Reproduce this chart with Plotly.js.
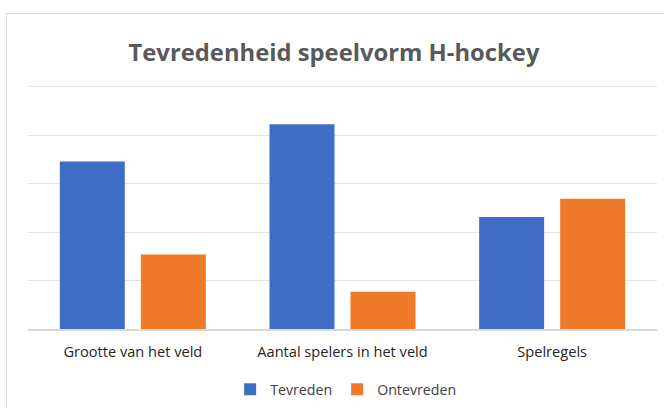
<!DOCTYPE html>
<html>
<head>
<meta charset="utf-8">
<script src="https://cdn.plot.ly/plotly-3.0.1.min.js"></script>
<style>
  body { margin: 0; background: #fff; }
  #chart { width: 664px; height: 408px; position: absolute; left: 0; top: 0; }
  .frame { position: absolute; left: 6px; top: 13px; width: 670px; height: 420px;
           border: 1px solid #d9d9d9; pointer-events: none; }
</style>
</head>
<body>
<div id="chart"></div>
<div class="frame"></div>
<script>
let categories = ["Grootte van het veld", "Aantal spelers in het veld", "Spelregels"];
let tevreden = [69.2, 84.6, 46.2];
let ontevreden = [30.8, 15.4, 53.8];

let trace_tevreden = {
  x: categories,
  y: tevreden,
  type: 'bar',
  name: 'Tevreden',
  marker: { color: '#3f6dc5' },
  hoverinfo: 'skip'
};

let trace_ontevreden = {
  x: categories,
  y: ontevreden,
  type: 'bar',
  name: 'Ontevreden',
  marker: { color: '#ee7a2a' },
  hoverinfo: 'skip'
};

// range goes a bit above 100 so the top grid line is drawn
let layout = {
  width: 664,
  height: 408,
  margin: { l: 28, r: 7, t: 82, b: 79, autoexpand: false },
  paper_bgcolor: 'rgba(0,0,0,0)',
  plot_bgcolor: 'rgba(0,0,0,0)',
  font: { family: 'Open Sans, sans-serif', color: '#404040' },
  title: {
    text: '<b>Tevredenheid speelvorm H-hockey</b>',
    font: { size: 23.8, color: '#595959', family: 'Open Sans, sans-serif' },
    x: 0.503,
    xanchor: 'center',
    y: 0.872,
    yanchor: 'middle'
  },
  barmode: 'group',
  bargap: 0.227,
  bargroupgap: 0.198,
  xaxis: {
    showline: true,
    linecolor: '#d9d9d9',
    linewidth: 2,
    ticks: '',
    ticklabelstandoff: 8,
    tickfont: { size: 14.6, color: '#262626' },
    fixedrange: true
  },
  yaxis: {
    range: [0, 102],
    tickvals: [0, 20, 40, 60, 80, 100],
    showticklabels: false,
    gridcolor: '#e3e3e3',
    gridwidth: 1,
    zeroline: false,
    fixedrange: true
  },
  showlegend: true,
  legend: {
    orientation: 'h',
    x: 0.505,
    xanchor: 'center',
    y: -0.245,
    yanchor: 'middle',
    font: { size: 14.2, color: '#404040' },
    itemwidth: 30
  }
};

Plotly.newPlot('chart', [trace_tevreden, trace_ontevreden], layout, { displayModeBar: false, staticPlot: true });
</script>
</body>
</html>
